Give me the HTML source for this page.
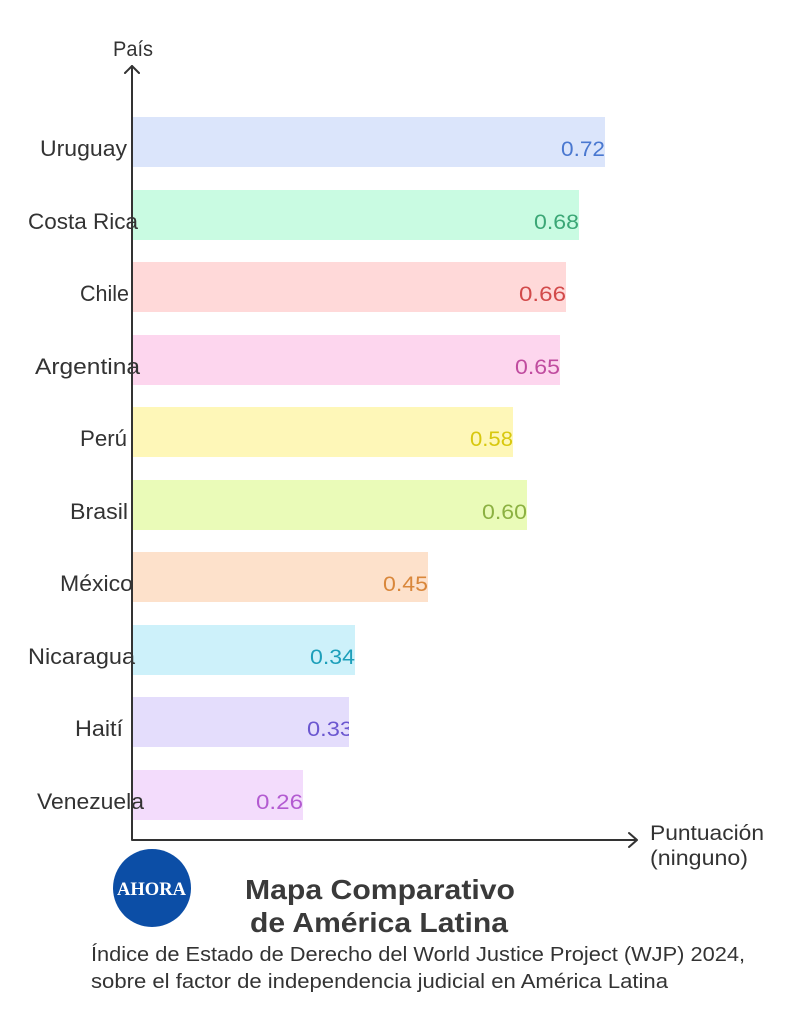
<!DOCTYPE html>
<html><head><meta charset="utf-8"><style>
html,body{margin:0;padding:0;background:#fff;}
svg{display:block;}
.lab{font-family:"Liberation Sans","DejaVu Sans",sans-serif;font-size:22px;fill:#333;}
.val{font-family:"Liberation Sans","DejaVu Sans",sans-serif;font-size:21px;}
</style></head><body>
<svg width="791" height="1024" viewBox="0 0 791 1024" xmlns="http://www.w3.org/2000/svg">
<rect width="791" height="1024" fill="#fff"/>
<!-- bars -->
<rect x="133" y="117" width="472" height="50" fill="#dbe5fb"/>
<rect x="133" y="190" width="446" height="50" fill="#c9fbe2"/>
<rect x="133" y="262" width="433" height="50" fill="#ffd9d9"/>
<rect x="133" y="335" width="427" height="50" fill="#fdd6ee"/>
<rect x="133" y="407" width="380" height="50" fill="#fef7b8"/>
<rect x="133" y="480" width="394" height="50" fill="#eafbb8"/>
<rect x="133" y="552" width="295" height="50" fill="#fde1cb"/>
<rect x="133" y="625" width="222" height="50" fill="#cdf1fa"/>
<rect x="133" y="697" width="216" height="50" fill="#e4ddfc"/>
<rect x="133" y="770" width="170" height="50" fill="#f3dcfc"/>
<!-- values -->
<text class="val" x="561" y="156" textLength="44" lengthAdjust="spacingAndGlyphs" fill="#4a78d0">0.72</text>
<text class="val" x="534" y="229" textLength="45" lengthAdjust="spacingAndGlyphs" fill="#3ba776">0.68</text>
<text class="val" x="519" y="301" textLength="47" lengthAdjust="spacingAndGlyphs" fill="#d24a4a">0.66</text>
<text class="val" x="515" y="374" textLength="45" lengthAdjust="spacingAndGlyphs" fill="#c04c9f">0.65</text>
<text class="val" x="470" y="446" textLength="43" lengthAdjust="spacingAndGlyphs" fill="#d8c80f">0.58</text>
<text class="val" x="482" y="519" textLength="45" lengthAdjust="spacingAndGlyphs" fill="#8cb142">0.60</text>
<text class="val" x="383" y="591" textLength="45" lengthAdjust="spacingAndGlyphs" fill="#d9873b">0.45</text>
<text class="val" x="310" y="664" textLength="45" lengthAdjust="spacingAndGlyphs" fill="#1d9fba">0.34</text>
<clipPath id="hc"><rect x="133" y="697" width="216" height="50"/></clipPath>
<text class="val" x="307" y="736" textLength="46" lengthAdjust="spacingAndGlyphs" fill="#6b57d0" clip-path="url(#hc)">0.33</text>
<text class="val" x="256" y="809" textLength="47" lengthAdjust="spacingAndGlyphs" fill="#b35bd1">0.26</text>
<!-- country labels -->
<text class="lab" x="40" y="156" textLength="87" lengthAdjust="spacingAndGlyphs">Uruguay</text>
<text class="lab" x="28" y="229" textLength="110" lengthAdjust="spacingAndGlyphs">Costa Rica</text>
<text class="lab" x="80" y="301" textLength="49" lengthAdjust="spacingAndGlyphs">Chile</text>
<text class="lab" x="35" y="374" textLength="105" lengthAdjust="spacingAndGlyphs">Argentina</text>
<text class="lab" x="80" y="446" textLength="47" lengthAdjust="spacingAndGlyphs">Perú</text>
<text class="lab" x="70" y="519" textLength="58" lengthAdjust="spacingAndGlyphs">Brasil</text>
<text class="lab" x="60" y="591" textLength="73" lengthAdjust="spacingAndGlyphs">México</text>
<text class="lab" x="28" y="664" textLength="107" lengthAdjust="spacingAndGlyphs">Nicaragua</text>
<text class="lab" x="75" y="736" textLength="48" lengthAdjust="spacingAndGlyphs">Haití</text>
<text class="lab" x="37" y="809" textLength="107" lengthAdjust="spacingAndGlyphs">Venezuela</text>
<!-- axes -->
<g stroke="#333" stroke-width="2" fill="none" stroke-linecap="round" stroke-linejoin="round">
<path d="M132 66 L132 840 L636 840"/>
<path d="M125 73 L132 66 L139 73"/>
<path d="M629 833 L637 840 L629 847"/>
</g>
<text class="lab" x="113" y="56" textLength="40" lengthAdjust="spacingAndGlyphs" style="font-size:21px">País</text>
<text class="lab" x="650" y="840" textLength="114" lengthAdjust="spacingAndGlyphs" style="font-size:21px">Puntuación</text>
<text class="lab" x="650" y="865" textLength="98" lengthAdjust="spacingAndGlyphs" style="font-size:21px">(ninguno)</text>
<!-- logo -->
<circle cx="152" cy="888" r="39" fill="#0c4ea6"/>
<text x="117" y="895" textLength="69" lengthAdjust="spacingAndGlyphs" font-family="Liberation Serif, serif" font-weight="bold" font-size="19" fill="#fff">AHORA</text>
<!-- title -->
<text x="245" y="899" textLength="270" lengthAdjust="spacingAndGlyphs" font-family="Liberation Sans, sans-serif" font-weight="bold" font-size="28" fill="#3a3a3a">Mapa Comparativo</text>
<text x="250" y="932" textLength="258" lengthAdjust="spacingAndGlyphs" font-family="Liberation Sans, sans-serif" font-weight="bold" font-size="28" fill="#3a3a3a">de América Latina</text>
<!-- subtitle -->
<text x="91" y="961" textLength="654" lengthAdjust="spacingAndGlyphs" font-family="Liberation Sans, sans-serif" font-size="20" fill="#333">Índice de Estado de Derecho del World Justice Project (WJP) 2024,</text>
<text x="91" y="988" textLength="577" lengthAdjust="spacingAndGlyphs" font-family="Liberation Sans, sans-serif" font-size="20" fill="#333">sobre el factor de independencia judicial en América Latina</text>
</svg>
</body></html>
